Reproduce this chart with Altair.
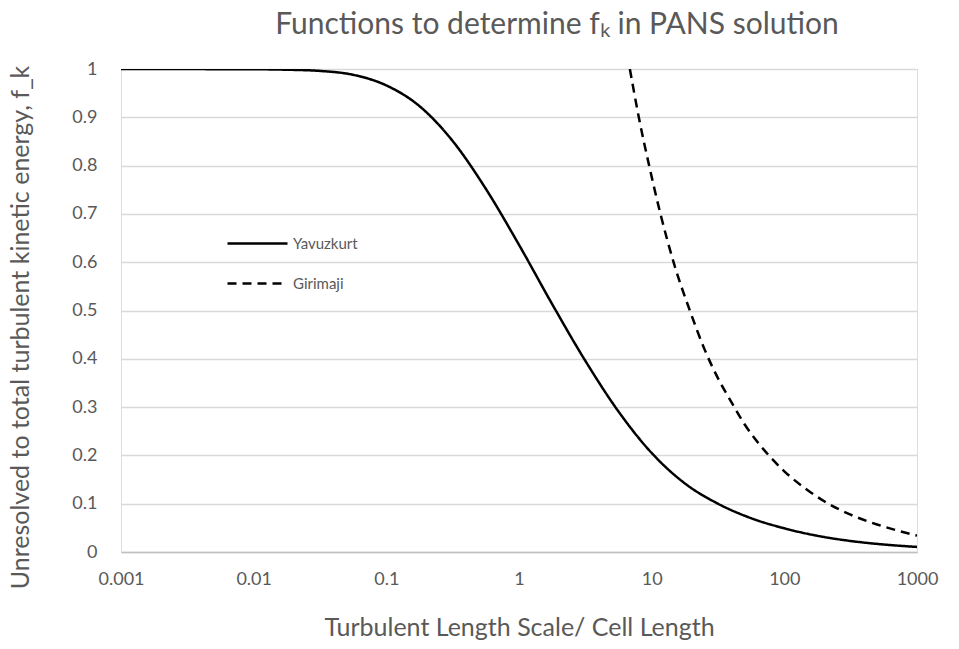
import altair as alt
import pandas as pd

# Yavuzkurt curve
yav_x = [0.001, 0.00316, 0.01, 0.0178, 0.0316, 0.0562, 0.1, 0.178, 0.316, 0.562, 1.0,
         1.78, 3.16, 5.62, 10, 17.8, 31.6, 56.2, 100, 178, 316, 562, 1000]
yav_y = [1.0, 0.9998, 0.9995, 0.9985, 0.996, 0.988, 0.966, 0.923, 0.851, 0.752, 0.636,
         0.513, 0.396, 0.291, 0.205, 0.142, 0.100, 0.070, 0.049, 0.0335, 0.0228, 0.0155, 0.0105]

# Girimaji curve
gir_x = [6.85, 8.0, 9.57, 11.65, 15, 19.4, 25, 32.7, 40, 50, 70, 80, 100, 150, 200, 300,
         500, 700, 1000]
gir_y = [1.0, 0.9, 0.8, 0.7, 0.59, 0.5, 0.42, 0.352, 0.31, 0.265, 0.212, 0.194, 0.167,
         0.128, 0.105, 0.080, 0.057, 0.045, 0.034]

series_names = ["Yavuzkurt", "Girimaji"]
x_ticks = [0.001, 0.01, 0.1, 1, 10, 100, 1000]
y_ticks = [0, 0.1, 0.2, 0.3, 0.4, 0.5, 0.6, 0.7, 0.8, 0.9, 1.0]

df = pd.concat([
    pd.DataFrame({"x": yav_x, "y": yav_y, "series": series_names[0]}),
    pd.DataFrame({"x": gir_x, "y": gir_y, "series": series_names[1]}),
], ignore_index=True)

FONT = "Lato"
GREY = "#595959"

chart = alt.Chart(df).mark_line(
    color="black", strokeWidth=2.5, interpolate="monotone", clip=True
).encode(
    x=alt.X("x:Q",
            scale=alt.Scale(type="log", domain=[0.001, 1000], nice=False),
            axis=alt.Axis(values=x_ticks, format="~g", title="Turbulent Length Scale/ Cell Length",
                          grid=False, ticks=False, domainColor="#bfbfbf", domainWidth=1.5,
                          labelFont=FONT, labelFontSize=18, labelColor=GREY, labelPadding=18,
                          labelFlush=False,
                          titleFont=FONT, titleFontSize=25, titleColor=GREY, titleFontWeight="normal",
                          titlePadding=27)),
    y=alt.Y("y:Q",
            scale=alt.Scale(domain=[0, 1], nice=False),
            axis=alt.Axis(values=y_ticks, format="~g",
                          title="Unresolved to total turbulent kinetic energy, f_k",
                          grid=True, gridColor="#d9d9d9", gridWidth=1.3, domain=False, ticks=False,
                          labelFont=FONT, labelFontSize=18, labelColor=GREY, labelPadding=24,
                          titleFont=FONT, titleFontSize=25, titleColor=GREY, titleFontWeight="normal",
                          titlePadding=38, titleY=258)),
    strokeDash=alt.StrokeDash("series:N",
                              scale=alt.Scale(domain=series_names, range=[[1, 0], [9, 6]]),
                              legend=alt.Legend(title=None, orient="none", legendX=105, legendY=143,
                                                symbolType="stroke", symbolSize=3600,
                                                symbolStrokeWidth=2.5, symbolStrokeColor="black",
                                                labelFont=FONT, labelFontSize=15, labelColor=GREY,
                                                labelOffset=4, rowPadding=-21)),
).properties(
    width=796, height=483,
    autosize=alt.AutoSizeParams(type="none"),
    padding={"left": 121, "top": 69, "right": 42, "bottom": 97},
    title=alt.TitleParams("Functions to determine f\u2096 in  PANS solution", font=FONT, fontSize=30,
                          color=GREY, fontWeight="normal", anchor="middle", dx=38, offset=20),
).configure_view(stroke=None).configure(background="white")

chart.save("out.html", embed_options={"renderer": "svg", "actions": False})
